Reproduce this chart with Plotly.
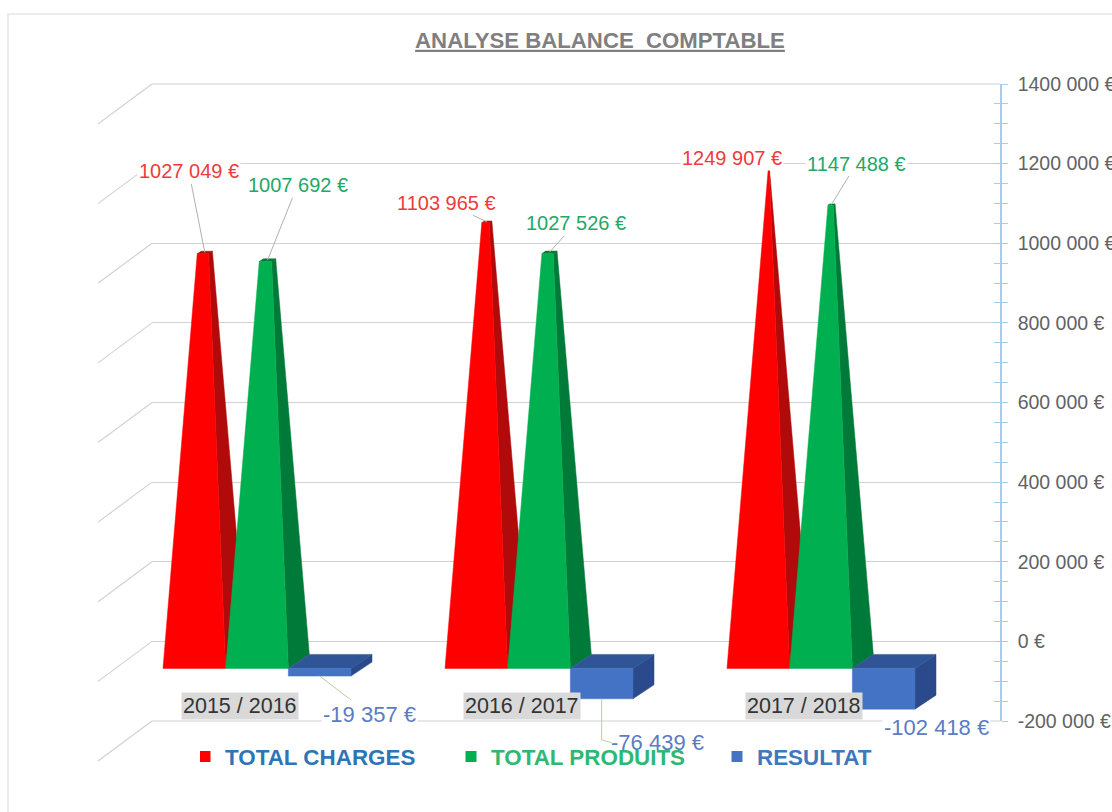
import plotly.graph_objects as go

# ---------- data ----------
categories = ["2015 / 2016", "2016 / 2017", "2017 / 2018"]
charges = [1027049, 1103965, 1249907]
produits = [1007692, 1027526, 1147488]
resultat = [-19357, -76439, -102418]
label_charges = ["1027 049 €", "1103 965 €", "1249 907 €"]
label_produits = ["1007 692 €", "1027 526 €", "1147 488 €"]
label_resultat = ["-19 357 €", "-76 439 €", "-102 418 €"]
tick_values = [-200000, 0, 200000, 400000, 600000, 800000, 1000000, 1200000, 1400000]
tick_labels = ["-200 000 €", "0 €", "200 000 €", "400 000 €", "600 000 €",
               "800 000 €", "1000 000 €", "1200 000 €", "1400 000 €"]
title_text = "ANALYSE BALANCE\u00a0\u00a0COMPTABLE"
legend_names = ["TOTAL CHARGES", "TOTAL PRODUITS", "RESULTAT"]

# ---------- style / geometry (pixels of the 1112x812 page) ----------
W, H = 1112, 812
PL, PR, PT, PB = 152, 1000, 84, 721          # back wall of the chart
Y_MIN, Y_MAX = -200000, 1400000
GROUP_PX = 282.0
MID_PX = 257.0                                # x pixel of group 0 centre
UY = (Y_MAX - Y_MIN) / (PB - PT)              # value per pixel
UX = 1 / GROUP_PX                             # category unit per pixel
BAR = 62.67 * UX
DX, DY = 21 * UX, 14 * UY                     # depth vector of a bar
FLOOR = -27 * UY                              # front edge of the floor
WALL_DX, WALL_DY = 54, 40                     # side wall vector, pixels

RED, RED_D = "#ff0000", "#b00a0a"
GREEN, GREEN_D = "#00b050", "#007a38"
BLUE, BLUE_TOP, BLUE_D = "#4472c4", "#2f5597", "#2b4a8b"
GRID = "#d2d2d2"
AXIS = "#a9cde6"
TEXT = "#636363"
pw, ph = PR - PL, PB - PT


def px_x(px):
    return (px - MID_PX) * UX


def px_y(py):
    return (PB - py) * UY + Y_MIN


def paper_x(x):
    """category coordinate -> paper fraction (shapes outside the plot area)"""
    return ((x / UX + MID_PX) - PL) / pw


def paper_y(v):
    return (v - Y_MIN) / (Y_MAX - Y_MIN)


fig = go.Figure()
shapes = []


def poly(xs, ys, color):
    fig.add_trace(go.Scatter(
        x=xs + xs[:1], y=ys + ys[:1], mode="lines", fill="toself", fillcolor=color,
        line=dict(color=color, width=0.5), hoverinfo="skip", showlegend=False))


# side-wall lines of the 3D floor/wall
for v in tick_values:
    shapes.append(dict(type="line", xref="paper", yref="paper", layer="below",
                       x0=0, x1=-WALL_DX / pw, y0=paper_y(v), y1=paper_y(v) - WALL_DY / ph,
                       line=dict(color=GRID, width=1.2)))
# gridlines lying on the two ends of the axis range
for v in (Y_MIN, Y_MAX):
    shapes.append(dict(type="line", xref="paper", yref="paper", layer="below",
                       x0=0, x1=1, y0=paper_y(v), y1=paper_y(v),
                       line=dict(color=GRID, width=1.2)))

APEX = max(charges) * 1.004


def pyramid(i, s, value, front, side):
    left = i + (s - 1.5) * BAR
    cx = left + BAR / 2 + DX / 2
    cy0 = FLOOR + DY / 2
    f = 1 - value / APEX
    yc = value + cy0
    hx, hdx = BAR / 2, DX / 2
    hdy = DY / 2
    bl = (left, FLOOR)
    br = (left + BAR, FLOOR)
    brb = (left + BAR + DX, FLOOR + DY)
    tl = (cx + f * (-hx - hdx), yc - f * hdy)
    tr = (cx + f * (hx - hdx), yc - f * hdy)
    trb = (cx + f * (hx + hdx), yc + f * hdy)
    tlb = (cx + f * (-hx + hdx), yc + f * hdy)
    poly([tl[0], tr[0], trb[0], tlb[0]], [tl[1], tr[1], trb[1], tlb[1]], side)
    poly([br[0], brb[0], trb[0], tr[0]], [br[1], brb[1], trb[1], tr[1]], side)
    poly([bl[0], br[0], tr[0], tl[0]], [bl[1], br[1], tr[1], tl[1]], front)
    return cx, yc


def box(i, s, value):
    left = i + (s - 1.5) * BAR
    right = left + BAR
    low = FLOOR + value
    poly([right, right + DX, right + DX, right],
         [FLOOR, FLOOR + DY, low + DY, low], BLUE_D)
    poly([left, right, right + DX, left + DX],
         [FLOOR, FLOOR, FLOOR + DY, FLOOR + DY], BLUE_TOP)
    poly([left, right, right, left], [FLOOR, FLOOR, low, low], BLUE)
    return left + BAR / 2, low


annotations = []
red_offsets = [(-16, -81), (-40, -19), (-37, -6)]
green_offsets = [(30, -75), (26, -29), (25, -41)]
blue_offsets = [(50, 38), (56, 44), (53, 18)]
blue_leader = ["#b5cf9a", "rgba(0,0,0,0)", "rgba(0,0,0,0)"]

for i in range(3):
    for s, vals, labels, offs, c, cd, tc in (
        (0, charges, label_charges, red_offsets, RED, RED_D, "#ee3b3b"),
        (1, produits, label_produits, green_offsets, GREEN, GREEN_D, "#22a867"),
    ):
        ax_, ay_ = pyramid(i, s, vals[i], c, cd)
        annotations.append(dict(
            x=ax_, y=ay_, ax=offs[i][0], ay=offs[i][1], text=labels[i], showarrow=True,
            arrowhead=0, arrowwidth=1, arrowcolor="#b0b0b0", bgcolor="#ffffff",
            font=dict(size=20, color=tc, family="Liberation Sans")))

for i in range(3):
    bx_, by_ = box(i, 2, resultat[i])
    annotations.append(dict(
        x=bx_, y=by_, ax=blue_offsets[i][0], ay=blue_offsets[i][1],
        text=label_resultat[i], showarrow=True, arrowhead=0, arrowwidth=1,
        arrowcolor=blue_leader[i], bgcolor="#ffffff" if i != 1 else "rgba(0,0,0,0)",
        font=dict(size=22, color="#5b7cc4", family="Liberation Sans")))
    if i == 1:
        # elbow leader of the middle result label
        sx, sy = paper_x(bx_), paper_y(by_)
        for (a, b), (c_, d) in (((0, 0), (0, -41)), ((0, -41), (10, -44))):
            shapes.append(dict(type="line", xref="paper", yref="paper", layer="above",
                               x0=sx + a / pw, x1=sx + c_ / pw,
                               y0=sy + b / ph, y1=sy + d / ph,
                               line=dict(color="#b5cf9a", width=1)))
    annotations.append(dict(
        x=i - 17 * UX, y=px_y(706), text=categories[i], showarrow=False,
        bgcolor="#d9d9d9", borderpad=1,
        font=dict(size=21.5, color="#333333", family="Liberation Sans")))

# legend entries
for name, color, tcol in zip(legend_names, (RED, GREEN, BLUE), ("#2e75b6", "#2eb872", "#3f78bd")):
    fig.add_trace(go.Scatter(
        x=[None], y=[None], mode="markers", name=f'<span style="color:{tcol}">{name}</span>',
        marker=dict(symbol="square", size=11, color=color)))

# second overlaying axis: inner half of the crossing ticks
fig.add_trace(go.Scatter(x=[None], y=[None], yaxis="y2", showlegend=False, hoverinfo="skip"))

# faint frame of the source page
shapes.append(dict(type="rect", xref="paper", yref="paper",
                   x0=(8 - PL) / pw, x1=(W + 40 - PL) / pw,
                   y0=(PB - (H + 40)) / ph, y1=(PB - 14) / ph,
                   line=dict(color="#ececec", width=2), layer="below"))

fig.update_layout(
    width=W, height=H, margin=dict(l=PL, r=W - PR, t=PT, b=H - PB, autoexpand=False),
    paper_bgcolor="#ffffff", plot_bgcolor="#ffffff",
    font=dict(family="Liberation Sans", color=TEXT),
    title=dict(text=f"<b><u>{title_text}</u></b>", x=600 / W, xanchor="center",
               y=1 - 40 / H, yanchor="middle", font=dict(size=22.2, color="#7f7f7f")),
    xaxis=dict(range=[px_x(PL), px_x(PR)], showgrid=False, zeroline=False, showline=False,
               showticklabels=False, ticks="", fixedrange=True),
    yaxis=dict(range=[Y_MIN, Y_MAX], side="right", tickvals=tick_values, ticktext=tick_labels,
               tickfont=dict(size=19.5, color=TEXT), ticklabelstandoff=6,
               showgrid=True, gridcolor=GRID, gridwidth=1.2, zeroline=False,
               showline=True, linecolor=AXIS, linewidth=1.5,
               ticks="outside", ticklen=6, tickcolor=AXIS, tickwidth=1,
               minor=dict(ticks="outside", ticklen=6, tickcolor=AXIS, dtick=50000,
                          tick0=0, showgrid=False),
               fixedrange=True),
    yaxis2=dict(range=[Y_MIN, Y_MAX], overlaying="y", side="right", tickvals=tick_values,
                showticklabels=False, showgrid=False, zeroline=False, showline=False,
                ticks="inside", ticklen=6, tickcolor=AXIS, tickwidth=1,
                minor=dict(ticks="inside", ticklen=6, tickcolor=AXIS, dtick=50000, tick0=0),
                fixedrange=True),
    legend=dict(orientation="h", x=(200 - PL) / pw, xanchor="left",
                y=(PB - 757) / ph, yanchor="middle", bgcolor="rgba(0,0,0,0)",
                font=dict(size=22.4, family="Liberation Sans", weight="bold"),
                entrywidth=236, entrywidthmode="pixels", itemwidth=30, indentation=-15,
                traceorder="normal"),
    shapes=shapes,
    annotations=annotations,
)

fig.write_html("out.html", config=dict(displayModeBar=False),
               post_script="document.body.style.margin='0';document.body.style.overflow='hidden';")
